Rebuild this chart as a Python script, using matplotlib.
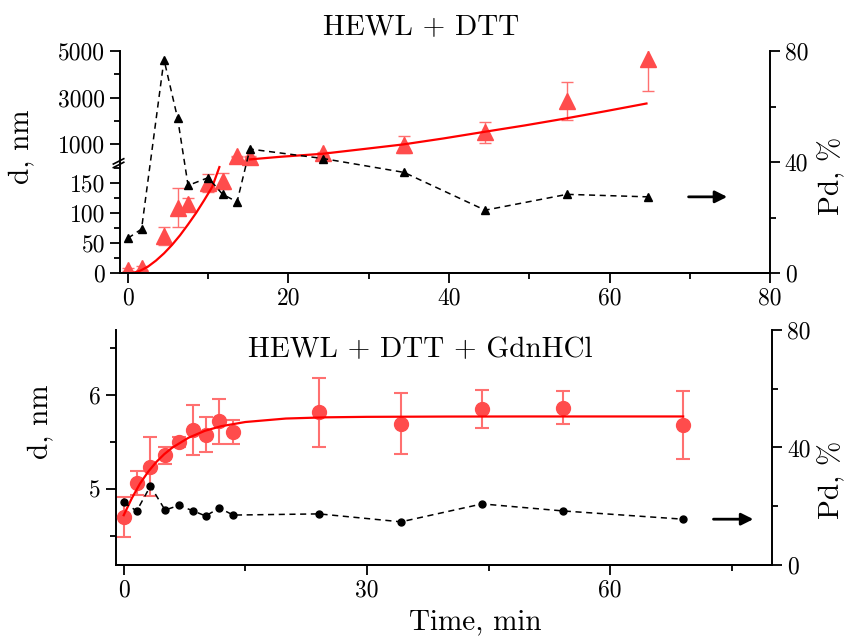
import numpy as np
import matplotlib
matplotlib.use('Agg')
import matplotlib.pyplot as plt

plt.rcParams['font.family'] = ['cmr10', 'DejaVu Serif']
plt.rcParams['mathtext.fontset'] = 'cm'
plt.rcParams['axes.unicode_minus'] = False

# ---- top panel: HEWL + DTT ----
t1 = [0, 1.7, 4.5, 6.2, 7.5, 10.0, 11.8, 13.6, 15.2, 24.3, 34.4, 44.5, 54.7, 64.8]
d1 = [6, 9, 62, 109, 115, 149, 153, 486, 456, 600, 970, 1506, 2849, 4673]
d1_err = [3, 3, 15, 33, 10, 15, 14, 25, 25, 60, 372, 450, 821, 1400]
pd1 = [12.6, 15.9, 76.9, 55.7, 31.6, 34.4, 28.4, 25.7, 44.7, 41.3, 36.3, 22.7, 28.4, 27.5]

fit1a_t = [0.5, 1.5, 2.5, 3.5, 4.5, 5.5, 6.5, 7.5, 8.5, 9.5, 10.5, 11.4]
fit1a_d = [0, 4, 11, 21, 33, 47, 63, 81, 100, 121, 143, 176]
fit1b_t = [15.2, 19.0, 24.2, 29.3, 34.3, 39.3, 44.4, 49.4, 54.5, 59.6, 64.6]
fit1b_d = [344, 456, 584, 786, 987, 1243, 1527, 1800, 2100, 2420, 2744]

# ---- bottom panel: HEWL + DTT + GdnHCl ----
t2 = [0, 1.6, 3.3, 5.1, 6.8, 8.5, 10.1, 11.8, 13.5, 24.1, 34.2, 44.2, 54.2, 69.0]
d2 = [4.70, 5.06, 5.235, 5.355, 5.50, 5.625, 5.575, 5.72, 5.605, 5.815, 5.695, 5.85, 5.865, 5.68]
d2_err = [0.21, 0.13, 0.315, 0.095, 0.05, 0.265, 0.185, 0.24, 0.125, 0.365, 0.325, 0.2, 0.175, 0.36]
pd2 = [21.3, 18.4, 26.9, 18.7, 20.3, 18.5, 16.7, 19.4, 17.0, 17.4, 14.7, 20.8, 18.4, 15.6]

fit2_t = [0, 1, 2, 3, 4, 5, 6, 8, 10, 12, 15, 20, 25, 30, 40, 50, 60, 69]
fit2_d = [4.72, 4.90, 5.055, 5.18, 5.284, 5.369, 5.439, 5.544, 5.617, 5.666, 5.711,
          5.748, 5.761, 5.766, 5.769, 5.77, 5.77, 5.77]

# arrows pointing to the right axis (x start, x end, Pd)
arrow1 = [69.5, 75.0, 27.5]
arrow2 = [72.4, 78.0, 15.6]

red = '#ff4c4c'
red_err = '#ff7070'
fs_tick = 17
fs_lab = 21

# broken left axis of the top panel: piecewise linear scale
brk = 182.5
k = 0.0386


def fwd(y):
    y = np.asarray(y, dtype=float)
    return np.where(y <= brk, y, brk + (y - brk) * k)


def inv(y):
    y = np.asarray(y, dtype=float)
    return np.where(y <= brk, y, brk + (y - brk) / k)


fig = plt.figure(figsize=(8.5, 6.37), dpi=100)
ax1 = fig.add_axes([0.141, 0.571, 0.765, 0.349])
ax3 = fig.add_axes([0.136, 0.113, 0.7726, 0.369])


def style(ax, right=False):
    ax.spines['top'].set_visible(False)
    for s in ['left', 'right', 'bottom']:
        ax.spines[s].set_linewidth(1.4)
    ax.tick_params(which='both', direction='out', width=1.3, labelsize=fs_tick,
                   top=False)
    ax.tick_params(which='major', length=7)
    ax.tick_params(which='minor', length=4)
    if not right:
        ax.spines['right'].set_visible(False)
        ax.tick_params(which='both', right=False)


# top panel
ax1.set_yscale('function', functions=(fwd, inv))
ax1.set_xlim(-1, 80)
ax1.set_ylim(0, 5000)
ax1.set_xticks([0, 20, 40, 60, 80])
ax1.set_xticks([10, 30, 50, 70], minor=True)
ax1.set_yticks([0, 50, 100, 150, 1000, 3000, 5000])
ax1.set_yticklabels(['0', '50', '100', '150', '1000', '3000', '5000'])
ax1.set_yticks([25, 75, 125, 175, 2000, 4000], minor=True)
ax1.yaxis.set_minor_formatter(plt.NullFormatter())
style(ax1)

ax1.errorbar(t1, d1, yerr=d1_err, fmt='none', ecolor=red_err, elinewidth=1,
             capsize=4, capthick=1, zorder=2)
ax1.plot(t1, d1, '^', color=red, ms=11, mec=red, zorder=3)
ax1.plot(fit1a_t, fit1a_d, '-', color='red', lw=1.6, zorder=4)
ax1.plot(fit1b_t, fit1b_d, '-', color='red', lw=1.6, zorder=4)

# break marks on the left spine
yb = fwd(brk) / fwd(5000)
for dy in [-0.008, 0.008]:
    ax1.plot([-0.01, 0.006], [yb + dy - 0.012, yb + dy + 0.012], color='k',
             lw=1.2, transform=ax1.transAxes, clip_on=False, zorder=10)

ax1.set_ylabel('d, nm', fontsize=fs_lab)
ax1.yaxis.set_label_coords(-0.15, 0.567)
ax1.yaxis.label.set_verticalalignment('center')

ax2 = ax1.twinx()
ax2.set_ylim(0, 80)
ax2.set_yticks([0, 40, 80])
ax2.set_yticks([20, 60], minor=True)
style(ax2, right=True)
ax2.spines['left'].set_visible(False)
ax2.plot(t1, pd1, '--^', color='k', ms=5.5, lw=1.1, dashes=(4, 3))
ax2.annotate('', xy=(arrow1[1], arrow1[2]), xytext=(arrow1[0], arrow1[2]),
             arrowprops=dict(arrowstyle='-|>', color='k', lw=2, mutation_scale=18))
ax2.set_ylabel('Pd, %', fontsize=fs_lab)
ax2.yaxis.set_label_coords(1.095, 0.437)
ax2.yaxis.label.set_verticalalignment('center')

fig.text(0.496, 0.958, 'HEWL + DTT', fontsize=fs_lab, ha='center', va='center')

# bottom panel
ax3.set_xlim(-1, 80)
ax3.set_ylim(4.19, 6.69)
ax3.set_xticks([0, 30, 60])
ax3.set_xticks([15, 45, 75], minor=True)
ax3.set_yticks([5, 6])
ax3.set_yticks([4.5, 5.5, 6.5], minor=True)
style(ax3)

ax3.errorbar(t2, d2, yerr=d2_err, fmt='none', ecolor=red_err, elinewidth=1.5,
             capsize=5, capthick=1.5, zorder=2)
ax3.plot(t2, d2, 'o', color=red, ms=10, mec=red, zorder=3)
ax3.plot(fit2_t, fit2_d, '-', color='red', lw=1.6, zorder=4)

ax3.set_ylabel('d, nm', fontsize=fs_lab)
ax3.yaxis.set_label_coords(-0.114, 0.609)
ax3.yaxis.label.set_verticalalignment('center')
ax3.set_xlabel('Time, min', fontsize=fs_lab)
ax3.xaxis.set_label_coords(0.547, -0.245)
ax3.xaxis.label.set_verticalalignment('center')

ax4 = ax3.twinx()
ax4.set_ylim(0, 80)
ax4.set_yticks([0, 40, 80])
ax4.set_yticks([20, 60], minor=True)
style(ax4, right=True)
ax4.spines['left'].set_visible(False)
ax4.plot(t2, pd2, '--o', color='k', ms=5, lw=1.1, dashes=(4, 3))
ax4.annotate('', xy=(arrow2[1], arrow2[2]), xytext=(arrow2[0], arrow2[2]),
             arrowprops=dict(arrowstyle='-|>', color='k', lw=2, mutation_scale=18))
ax4.set_ylabel('Pd, %', fontsize=fs_lab)
ax4.yaxis.set_label_coords(1.09, 0.362)
ax4.yaxis.label.set_verticalalignment('center')

fig.text(0.495, 0.45, 'HEWL + DTT + GdnHCl', fontsize=fs_lab, ha='center', va='center')

fig.savefig('out.png', dpi=100)
